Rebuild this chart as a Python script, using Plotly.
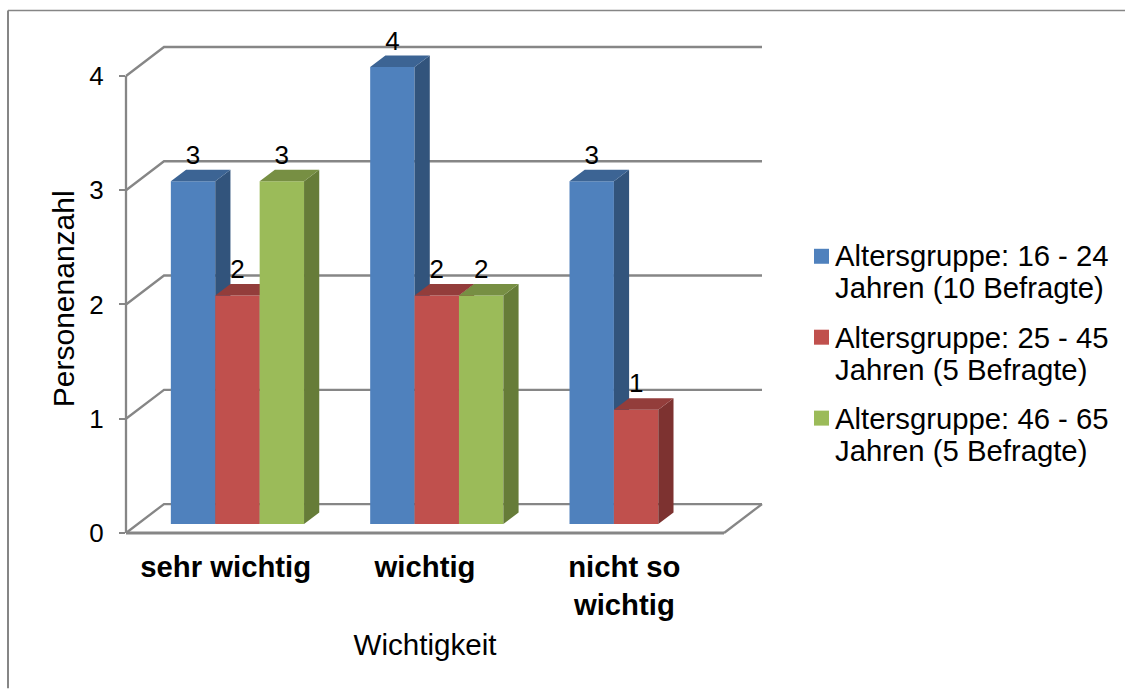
import plotly.graph_objects as go

# Survey results: number of respondents per importance rating and age group
categories = ["sehr wichtig", "wichtig", "nicht so<br>wichtig"]
series_names = [
    "Altersgruppe: 16 - 24<br>Jahren (10 Befragte)",
    "Altersgruppe: 25 - 45<br>Jahren (5 Befragte)",
    "Altersgruppe: 46 - 65<br>Jahren (5 Befragte)",
]
values_young = [3, 4, 3]
values_middle = [2, 2, 1]
values_old = [3, 2, None]
y_ticks = [0, 1, 2, 3, 4]

front_colors = ["#4F81BD", "#C0504D", "#9BBB59"]
side_colors = ["#32547C", "#7D3230", "#667C38"]
top_colors = ["#3C6494", "#933D3B", "#778F43"]
grid_color = "#868686"
text_color = "#000000"
font_family = "Liberation Sans, Arial, sans-serif"

WIDTH, HEIGHT = 1125, 689
# Front plane of the chart box, in page pixels
LEFT, RIGHT, FRONT_TOP, BOTTOM = 126, 724, 64.6, 533.5
# Full drawing area: the receding walls plus room for the heavy axis lines
FULL_LEFT, FULL_RIGHT, FULL_TOP, FULL_BOTTOM = 116, 766, 20, 543.5
Y_MAX = 4.1
X_MIN, X_MAX = -0.5, 2.5
UNIT_X = (RIGHT - LEFT) / (X_MAX - X_MIN)
UNIT_Y = (BOTTOM - FRONT_TOP) / Y_MAX
FULL_X_RANGE = [X_MIN - (LEFT - FULL_LEFT) / UNIT_X, X_MIN + (FULL_RIGHT - LEFT) / UNIT_X]
FULL_Y_RANGE = [-(FULL_BOTTOM - BOTTOM) / UNIT_Y, (BOTTOM - FULL_TOP) / UNIT_Y]

# Oblique projection: how far the back wall is shifted from the front plane
DEPTH_X = 38 / UNIT_X
DEPTH_Y = 29 / UNIT_Y
BAR_W = 44.4 / UNIT_X
BAR_FRONT = 0.31   # bars start at this fraction of the floor depth
BAR_DEPTH = 0.40   # and take up this fraction of it
BASE = BAR_FRONT * DEPTH_Y
SIDE_X = BAR_DEPTH * DEPTH_X
SIDE_Y = BAR_DEPTH * DEPTH_Y
LABEL_GAP = 24 / UNIT_Y


def px(x):
    return (x - FULL_LEFT) / (FULL_RIGHT - FULL_LEFT)


def py(y):
    return (FULL_BOTTOM - y) / (FULL_BOTTOM - FULL_TOP)


def polygons(corner_lists):
    xs, ys = [], []
    for corners in corner_lists:
        for cx, cy in corners:
            xs.append(cx)
            ys.append(cy)
        xs.append(None)
        ys.append(None)
    return xs, ys


fig = go.Figure()

# The front-plane axes carry tick labels and titles
fig.add_trace(go.Scatter(
    x=[0], y=[0], mode="markers", marker=dict(opacity=0), xaxis="x", yaxis="y",
    showlegend=False, hoverinfo="skip",
))

# Walls and floor: horizontal grid on the back wall, diagonals on the side wall
wall_x, wall_y = [], []
for t in y_ticks:
    wall_x += [X_MIN, X_MIN + DEPTH_X, X_MAX + DEPTH_X, None]
    wall_y += [t, t + DEPTH_Y, t + DEPTH_Y, None]
wall_x += [X_MIN, X_MIN, None, X_MAX, X_MAX + DEPTH_X]
wall_y += [0, y_ticks[-1], None, 0, DEPTH_Y]
fig.add_trace(go.Scatter(
    x=wall_x, y=wall_y, mode="lines", showlegend=False, xaxis="x2", yaxis="y2",
    line=dict(color=grid_color, width=2.3), hoverinfo="skip",
))
# Heavier front edge of the floor
fig.add_trace(go.Scatter(
    x=[X_MIN, X_MAX], y=[0, 0], mode="lines", showlegend=False, xaxis="x2", yaxis="y2",
    line=dict(color=grid_color, width=3), hoverinfo="skip",
))

all_values = [values_young, values_middle, values_old]
label_x, label_y, label_t = [], [], []

# One overlaid subplot per series so the series stack front to back in order
for s, vals in enumerate(all_values):
    axis_id = str(s + 3)
    xa, ya = "x" + axis_id, "y" + axis_id
    shift = (s - 1) * BAR_W + BAR_FRONT * DEPTH_X
    xs = [i + shift for i in range(len(vals))]
    kept = [(x0, v) for x0, v in zip(xs, vals) if v is not None]

    fig.add_trace(go.Bar(
        x=xs, y=vals, base=BASE, width=BAR_W, name=series_names[s],
        xaxis=xa, yaxis=ya, showlegend=False,
        marker=dict(color=front_colors[s], line=dict(width=0)),
    ))

    side = []
    top = []
    for x0, v in kept:
        r = x0 + BAR_W / 2
        l = x0 - BAR_W / 2
        h = BASE + v
        side.append([(r, BASE), (r + SIDE_X, BASE + SIDE_Y),
                     (r + SIDE_X, h + SIDE_Y), (r, h)])
        top.append([(l, h), (l + SIDE_X, h + SIDE_Y),
                    (r + SIDE_X, h + SIDE_Y), (r, h)])
        label_x.append(x0)
        label_y.append(h + LABEL_GAP)
        label_t.append(str(v))

    for faces, color in ((side, side_colors[s]), (top, top_colors[s])):
        fx, fy = polygons(faces)
        fig.add_trace(go.Scatter(
            x=fx, y=fy, mode="lines", fill="toself", fillcolor=color,
            line=dict(width=0, color=color), xaxis=xa, yaxis=ya,
            showlegend=False, hoverinfo="skip",
        ))

# Value labels sit on the uppermost layer
fig.add_trace(go.Scatter(
    x=label_x, y=label_y, text=label_t, mode="text",
    textposition="middle center", xaxis="x5", yaxis="y5", cliponaxis=False,
    textfont=dict(size=26, color=text_color, family=font_family),
    showlegend=False, hoverinfo="skip",
))

wall_xaxis = dict(range=FULL_X_RANGE, domain=[0, 1], visible=False, anchor="y2")
wall_yaxis = dict(range=FULL_Y_RANGE, domain=[0, 1], visible=False, anchor="x2")
hidden_x = dict(range=FULL_X_RANGE, overlaying="x2", visible=False)
hidden_y = dict(range=FULL_Y_RANGE, overlaying="y2", visible=False)

# Legend drawn as swatches with one text line per row
legend_swatch_tops = [249, 330, 411]
legend_line_centers = [(256, 288), (338, 370), (419, 451)]
shapes = [
    # outer chart frame
    dict(type="line", xref="paper", yref="paper", x0=px(8), x1=px(WIDTH),
         y0=py(10.5), y1=py(10.5), line=dict(color=grid_color, width=1.5)),
    dict(type="line", xref="paper", yref="paper", x0=px(8), x1=px(8),
         y0=py(10.5), y1=py(HEIGHT), line=dict(color=grid_color, width=2)),
]
annotations = []
for s, name in enumerate(series_names):
    t0 = legend_swatch_tops[s]
    shapes.append(dict(
        type="rect", xref="paper", yref="paper", x0=px(814), x1=px(829),
        y0=py(t0), y1=py(t0 + 15), fillcolor=front_colors[s], line=dict(width=0),
    ))
    for line_text, cy in zip(name.split("<br>"), legend_line_centers[s]):
        annotations.append(dict(
            text=line_text, xref="paper", yref="paper", x=px(833), y=py(cy),
            xanchor="left", yanchor="middle", showarrow=False, align="left",
            font=dict(size=29.3, color=text_color, family=font_family),
        ))

fig.update_layout(
    width=WIDTH, height=HEIGHT,
    margin=dict(l=FULL_LEFT, r=WIDTH - FULL_RIGHT, t=FULL_TOP, b=HEIGHT - FULL_BOTTOM, pad=0),
    paper_bgcolor="white", plot_bgcolor="rgba(0,0,0,0)",
    barmode="overlay", showlegend=False,
    font=dict(family=font_family, color=text_color, size=28),
    xaxis=dict(
        domain=[px(LEFT), px(RIGHT)], anchor="y",
        range=[X_MIN, X_MAX], tickmode="array", tickvals=[0, 1, 2],
        ticktext=["<b>%s</b>" % c for c in categories], ticks="",
        showgrid=False, zeroline=False, showline=False, ticklabelstandoff=14,
        tickfont=dict(size=29.3, family=font_family, color=text_color),
        title=dict(text="Wichtigkeit", standoff=13,
                   font=dict(size=29.6, family=font_family, color=text_color)),
    ),
    yaxis=dict(
        domain=[py(BOTTOM), py(FRONT_TOP)], anchor="x",
        range=[0, Y_MAX], tickmode="array", tickvals=y_ticks,
        ticks="outside", ticklen=6, tickwidth=1.5, tickcolor=grid_color,
        showgrid=False, zeroline=False, showline=False, ticklabelstandoff=10,
        tickfont=dict(size=26, family=font_family, color=text_color),
        title=dict(text="Personenanzahl", standoff=5,
                   font=dict(size=30, family=font_family, color=text_color)),
    ),
    xaxis2=wall_xaxis, yaxis2=wall_yaxis,
    xaxis3=hidden_x, yaxis3=hidden_y,
    xaxis4=hidden_x, yaxis4=hidden_y,
    xaxis5=hidden_x, yaxis5=hidden_y,
    shapes=shapes, annotations=annotations,
)

fig.write_html("out.html")
